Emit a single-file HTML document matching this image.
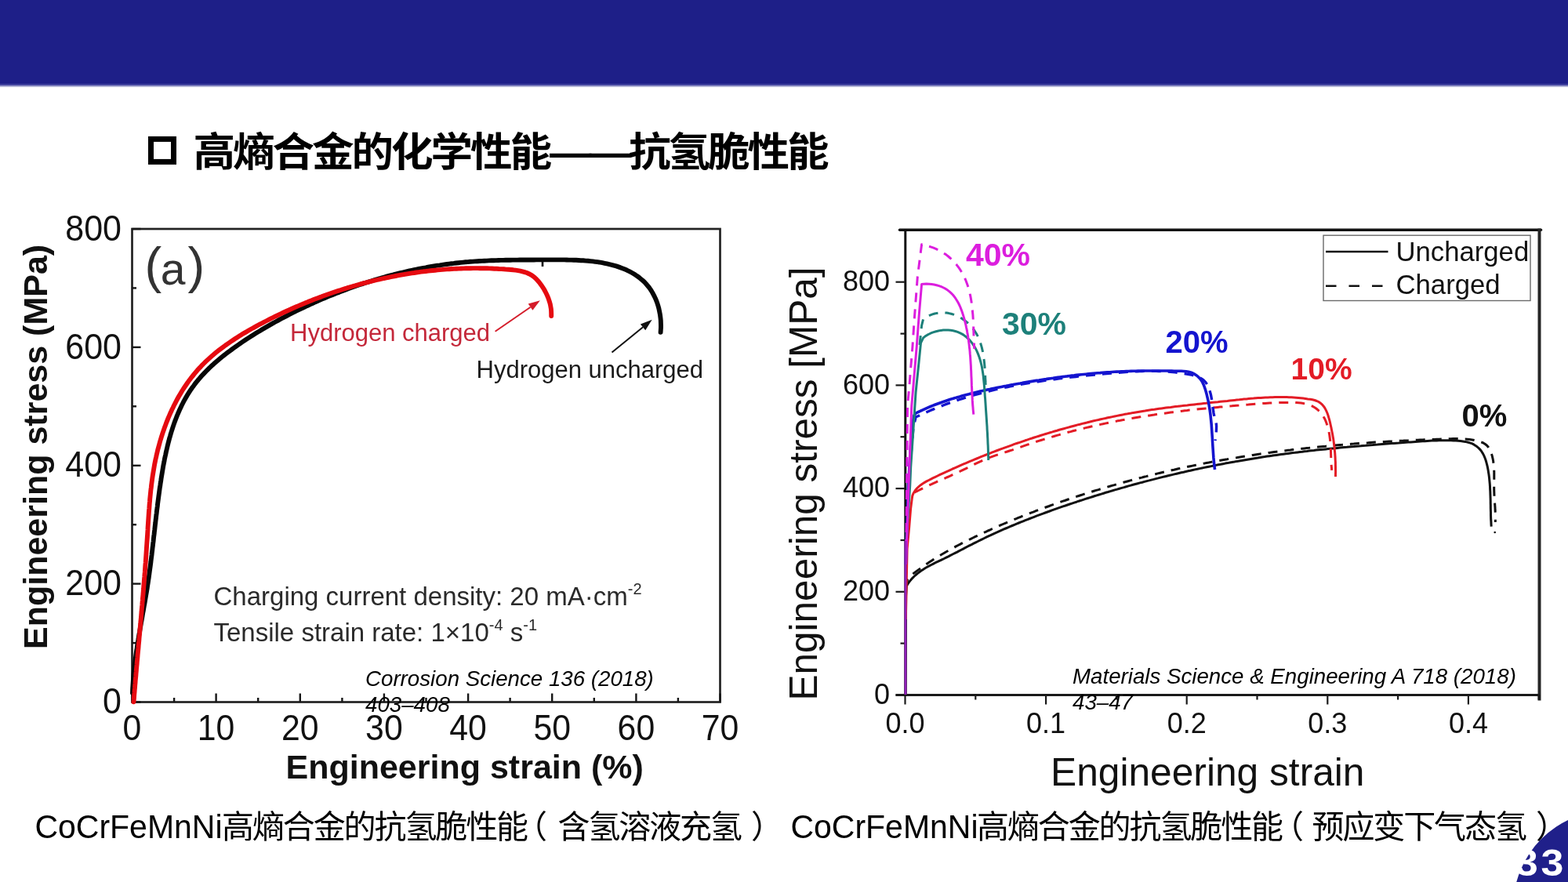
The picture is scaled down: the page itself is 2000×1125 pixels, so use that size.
<!DOCTYPE html>
<html><head><meta charset="utf-8"><title>slide</title>
<style>
html,body{margin:0;padding:0;background:#fff;}
body{width:2000px;height:1125px;overflow:hidden;position:relative;}
svg{position:absolute;left:0;top:0;display:block;}
</style></head>
<body>
<svg width="2000" height="1125" viewBox="0 0 2000 1125">
<rect x="0" y="0" width="2000" height="107.7" fill="#1e1f88"/>
<rect x="0" y="107.7" width="2000" height="1.2" fill="#16178a"/>
<rect x="0" y="108.9" width="2000" height="2" fill="#a8aad1"/>
<rect x="192.5" y="177.4" width="29" height="29" fill="none" stroke="#000" stroke-width="7"/>
<text transform="translate(246.5 211.5) scale(1.05 1)" x="0" y="0" font-family="'Liberation Sans','Noto Sans CJK SC',sans-serif" font-size="51" letter-spacing="-2.9" font-weight="700" fill="#000">高熵合金的化学性能——抗氢脆性能</text>
<g font-family="'Liberation Sans',Arial,sans-serif"><rect x="168.5" y="292.0" width="750.0" height="603.5" fill="none" stroke="#222" stroke-width="2.7"/><line x1="168.5" y1="895.5" x2="179.5" y2="895.5" stroke="#161616" stroke-width="2.4"/><line x1="168.5" y1="820.1" x2="174.0" y2="820.1" stroke="#161616" stroke-width="2.4"/><line x1="168.5" y1="744.6" x2="179.5" y2="744.6" stroke="#161616" stroke-width="2.4"/><line x1="168.5" y1="669.2" x2="174.0" y2="669.2" stroke="#161616" stroke-width="2.4"/><line x1="168.5" y1="593.8" x2="179.5" y2="593.8" stroke="#161616" stroke-width="2.4"/><line x1="168.5" y1="518.3" x2="174.0" y2="518.3" stroke="#161616" stroke-width="2.4"/><line x1="168.5" y1="442.9" x2="179.5" y2="442.9" stroke="#161616" stroke-width="2.4"/><line x1="168.5" y1="367.4" x2="174.0" y2="367.4" stroke="#161616" stroke-width="2.4"/><line x1="168.5" y1="292.0" x2="179.5" y2="292.0" stroke="#161616" stroke-width="2.4"/><line x1="168.5" y1="895.5" x2="168.5" y2="884.5" stroke="#161616" stroke-width="2.4"/><line x1="222.1" y1="895.5" x2="222.1" y2="890.0" stroke="#161616" stroke-width="2.4"/><line x1="275.6" y1="895.5" x2="275.6" y2="884.5" stroke="#161616" stroke-width="2.4"/><line x1="329.2" y1="895.5" x2="329.2" y2="890.0" stroke="#161616" stroke-width="2.4"/><line x1="382.8" y1="895.5" x2="382.8" y2="884.5" stroke="#161616" stroke-width="2.4"/><line x1="436.4" y1="895.5" x2="436.4" y2="890.0" stroke="#161616" stroke-width="2.4"/><line x1="489.9" y1="895.5" x2="489.9" y2="884.5" stroke="#161616" stroke-width="2.4"/><line x1="543.5" y1="895.5" x2="543.5" y2="890.0" stroke="#161616" stroke-width="2.4"/><line x1="597.1" y1="895.5" x2="597.1" y2="884.5" stroke="#161616" stroke-width="2.4"/><line x1="650.6" y1="895.5" x2="650.6" y2="890.0" stroke="#161616" stroke-width="2.4"/><line x1="704.2" y1="895.5" x2="704.2" y2="884.5" stroke="#161616" stroke-width="2.4"/><line x1="757.8" y1="895.5" x2="757.8" y2="890.0" stroke="#161616" stroke-width="2.4"/><line x1="811.4" y1="895.5" x2="811.4" y2="884.5" stroke="#161616" stroke-width="2.4"/><line x1="864.9" y1="895.5" x2="864.9" y2="890.0" stroke="#161616" stroke-width="2.4"/><line x1="918.5" y1="895.5" x2="918.5" y2="884.5" stroke="#161616" stroke-width="2.4"/><text transform="translate(155 910.1) scale(0.935 1)" text-anchor="end" font-size="46" fill="#111">0</text><text transform="translate(155 759.2) scale(0.935 1)" text-anchor="end" font-size="46" fill="#111">200</text><text transform="translate(155 608.4) scale(0.935 1)" text-anchor="end" font-size="46" fill="#111">400</text><text transform="translate(155 457.5) scale(0.935 1)" text-anchor="end" font-size="46" fill="#111">600</text><text transform="translate(155 306.6) scale(0.935 1)" text-anchor="end" font-size="46" fill="#111">800</text><text transform="translate(168.5 944.3) scale(0.93 1)" text-anchor="middle" font-size="46" fill="#111">0</text><text transform="translate(275.6 944.3) scale(0.93 1)" text-anchor="middle" font-size="46" fill="#111">10</text><text transform="translate(382.8 944.3) scale(0.93 1)" text-anchor="middle" font-size="46" fill="#111">20</text><text transform="translate(489.9 944.3) scale(0.93 1)" text-anchor="middle" font-size="46" fill="#111">30</text><text transform="translate(597.1 944.3) scale(0.93 1)" text-anchor="middle" font-size="46" fill="#111">40</text><text transform="translate(704.2 944.3) scale(0.93 1)" text-anchor="middle" font-size="46" fill="#111">50</text><text transform="translate(811.4 944.3) scale(0.93 1)" text-anchor="middle" font-size="46" fill="#111">60</text><text transform="translate(918.5 944.3) scale(0.93 1)" text-anchor="middle" font-size="46" fill="#111">70</text><text x="364.5" y="992.5" font-size="43" font-weight="bold" fill="#111">Engineering strain (%)</text><text transform="translate(59.5 828) rotate(-90)" x="0" y="0" font-size="43" font-weight="bold" fill="#111">Engineering stress (MPa)</text><path d="M169.0 884.0 L169.1 881.0 L169.2 878.0 L169.4 875.0 L169.6 872.0 L169.8 869.0 L170.0 866.0 L170.2 863.1 L170.5 860.1 L170.8 857.1 L171.1 854.1 L171.4 851.1 L171.7 848.1 L172.1 845.1 L172.5 842.1 L172.9 839.1 L173.3 836.2 L173.7 833.2 L174.1 830.2 L174.6 827.2 L175.0 824.2 L175.5 821.2 L176.0 818.2 L176.5 815.3 L176.9 812.3 L177.4 809.3 L178.0 806.3 L178.5 803.3 L179.0 800.3 L179.5 797.4 L180.0 794.4 L180.6 791.4 L181.1 788.4 L181.6 785.4 L182.1 782.5 L182.7 779.5 L183.2 776.5 L183.7 773.5 L184.3 770.5 L184.8 767.6 L185.3 764.6 L185.8 761.6 L186.3 758.6 L186.8 755.7 L187.3 752.7 L187.8 749.7 L188.2 746.7 L188.7 743.8 L189.1 740.8 L189.6 737.8 L190.0 734.9 L190.4 731.9 L190.8 728.9 L191.2 725.9 L191.6 723.0 L192.0 720.0 L192.4 717.0 L192.7 714.1 L193.1 711.1 L193.5 708.1 L193.8 705.1 L194.2 702.2 L194.5 699.2 L194.9 696.2 L195.2 693.2 L195.6 690.3 L195.9 687.3 L196.2 684.3 L196.6 681.4 L196.9 678.4 L197.3 675.4 L197.6 672.4 L197.9 669.5 L198.3 666.5 L198.6 663.5 L199.0 660.5 L199.3 657.5 L199.7 654.6 L200.0 651.6 L200.4 648.6 L200.8 645.6 L201.1 642.6 L201.5 639.6 L201.9 636.7 L202.3 633.7 L202.7 630.7 L203.1 627.7 L203.5 624.7 L203.9 621.7 L204.4 618.7 L204.8 615.7 L205.3 612.7 L205.7 609.7 L206.2 606.7 L206.7 603.7 L207.2 600.7 L207.7 597.7 L208.2 594.7 L208.8 591.7 L209.4 588.7 L209.9 585.7 L210.5 582.8 L211.2 579.8 L211.8 576.8 L212.5 573.9 L213.2 570.9 L213.9 567.9 L214.6 565.0 L215.4 562.1 L216.1 559.2 L217.0 556.3 L217.8 553.4 L218.7 550.5 L219.6 547.6 L220.5 544.8 L221.5 541.9 L222.5 539.1 L223.5 536.3 L224.6 533.5 L225.7 530.7 L226.8 528.0 L228.0 525.3 L229.2 522.5 L230.4 519.9 L231.7 517.2 L233.1 514.5 L234.4 511.9 L235.9 509.3 L237.3 506.8 L238.8 504.2 L240.4 501.7 L242.0 499.2 L243.6 496.7 L245.3 494.3 L247.1 491.9 L248.8 489.5 L250.7 487.2 L252.6 484.8 L254.5 482.6 L256.5 480.3 L258.5 478.1 L260.6 475.9 L262.7 473.7 L264.8 471.6 L267.0 469.4 L269.2 467.3 L271.5 465.3 L273.7 463.2 L276.0 461.2 L278.4 459.2 L280.7 457.3 L283.1 455.3 L285.5 453.4 L287.9 451.5 L290.3 449.6 L292.8 447.8 L295.3 446.0 L297.8 444.2 L300.3 442.4 L302.8 440.6 L305.3 438.9 L307.8 437.1 L310.3 435.4 L312.8 433.7 L315.4 432.1 L317.9 430.4 L320.5 428.8 L323.0 427.2 L325.6 425.6 L328.1 424.0 L330.7 422.5 L333.2 420.9 L335.8 419.4 L338.4 417.9 L341.0 416.4 L343.6 414.9 L346.2 413.4 L348.8 411.9 L351.4 410.5 L354.0 409.1 L356.6 407.6 L359.3 406.2 L361.9 404.8 L364.5 403.5 L367.2 402.1 L369.9 400.7 L372.5 399.4 L375.2 398.0 L377.9 396.7 L380.6 395.4 L383.3 394.1 L386.0 392.8 L388.7 391.5 L391.4 390.2 L394.1 389.0 L396.8 387.7 L399.6 386.5 L402.3 385.2 L405.1 384.0 L407.8 382.8 L410.6 381.6 L413.4 380.5 L416.1 379.3 L418.9 378.1 L421.7 377.0 L424.5 375.9 L427.3 374.8 L430.1 373.6 L432.9 372.6 L435.7 371.5 L438.5 370.4 L441.3 369.4 L444.2 368.3 L447.0 367.3 L449.8 366.3 L452.7 365.3 L455.5 364.3 L458.4 363.3 L461.3 362.4 L464.1 361.4 L467.0 360.5 L469.9 359.6 L472.7 358.7 L475.6 357.8 L478.5 356.9 L481.4 356.0 L484.3 355.2 L487.2 354.3 L490.1 353.5 L493.0 352.7 L495.9 351.9 L498.8 351.1 L501.8 350.4 L504.7 349.6 L507.6 348.9 L510.5 348.2 L513.5 347.5 L516.4 346.8 L519.3 346.1 L522.3 345.4 L525.2 344.8 L528.2 344.2 L531.1 343.6 L534.1 343.0 L537.1 342.4 L540.0 341.8 L543.0 341.3 L546.0 340.7 L548.9 340.2 L551.9 339.7 L554.9 339.2 L557.9 338.7 L560.8 338.3 L563.8 337.8 L566.8 337.4 L569.8 337.0 L572.8 336.6 L575.8 336.2 L578.8 335.9 L581.7 335.5 L584.7 335.2 L587.7 334.9 L590.7 334.6 L593.7 334.3 L596.7 334.1 L599.7 333.8 L602.7 333.6 L605.8 333.4 L608.8 333.2 L611.8 333.0 L614.8 332.9 L617.8 332.7 L620.8 332.6 L623.8 332.4 L626.8 332.3 L629.8 332.2 L632.8 332.1 L635.8 332.0 L638.9 331.9 L641.9 331.9 L644.9 331.8 L647.9 331.7 L650.9 331.7 L653.9 331.6 L656.9 331.6 L659.9 331.6 L662.9 331.5 L665.9 331.5 L668.9 331.5 L671.9 331.5 L675.0 331.5 L678.0 331.5 L681.0 331.5 L684.0 331.4 L686.9 331.4 L689.9 331.4 L692.9 331.4 L695.9 331.4 L698.9 331.4 L701.9 331.4 L704.9 331.4 L707.9 331.4 L710.9 331.4 L713.9 331.4 L716.9 331.4 L719.9 331.4 L722.9 331.5 L725.9 331.6 L728.9 331.6 L731.9 331.7 L734.9 331.8 L737.9 332.0 L740.9 332.2 L744.0 332.3 L747.0 332.6 L750.1 332.8 L753.1 333.1 L756.2 333.4 L759.2 333.8 L762.2 334.2 L765.3 334.7 L768.3 335.2 L771.3 335.8 L774.2 336.4 L777.2 337.1 L780.2 337.8 L783.1 338.6 L786.0 339.4 L788.8 340.4 L791.7 341.4 L794.5 342.5 L797.2 343.6 L800.0 344.8 L802.7 346.1 L805.3 347.5 L807.9 349.0 L810.4 350.6 L812.9 352.3 L815.3 354.0 L817.6 355.9 L819.8 357.8 L822.0 359.8 L824.0 362.0 L825.9 364.2 L827.8 366.5 L829.5 368.9 L831.1 371.4 L832.6 374.0 L834.0 376.6 L835.3 379.3 L836.6 382.1 L837.7 384.9 L838.7 387.8 L839.6 390.7 L840.4 393.6 L841.0 396.6 L841.6 399.6 L842.1 402.6 L842.5 405.7 L842.8 408.7 L842.9 411.8 L843.0 414.8 L843.0 417.9 L842.8 420.9 L842.6 423.9" fill="none" stroke="#070707" stroke-width="5.9" stroke-linejoin="round" stroke-linecap="round"/><path d="M170.5 895.3 L170.8 892.3 L171.0 889.3 L171.2 886.3 L171.5 883.3 L171.7 880.3 L172.0 877.3 L172.2 874.3 L172.5 871.3 L172.7 868.3 L173.0 865.3 L173.3 862.3 L173.5 859.3 L173.8 856.3 L174.0 853.3 L174.3 850.3 L174.6 847.3 L174.8 844.3 L175.1 841.3 L175.4 838.3 L175.6 835.3 L175.9 832.3 L176.2 829.3 L176.5 826.3 L176.7 823.3 L177.0 820.3 L177.3 817.2 L177.5 814.2 L177.8 811.2 L178.1 808.2 L178.3 805.2 L178.6 802.2 L178.9 799.2 L179.2 796.1 L179.4 793.1 L179.7 790.1 L180.0 787.1 L180.2 784.1 L180.5 781.1 L180.7 778.1 L181.0 775.0 L181.3 772.0 L181.5 769.0 L181.8 766.0 L182.0 763.0 L182.3 760.0 L182.6 756.9 L182.8 753.9 L183.1 750.9 L183.3 747.9 L183.6 744.9 L183.8 741.9 L184.0 738.8 L184.3 735.8 L184.5 732.8 L184.8 729.8 L185.0 726.8 L185.2 723.8 L185.4 720.8 L185.7 717.8 L185.9 714.7 L186.1 711.7 L186.3 708.7 L186.5 705.7 L186.7 702.7 L186.9 699.7 L187.1 696.7 L187.3 693.7 L187.5 690.7 L187.7 687.7 L187.9 684.7 L188.1 681.7 L188.3 678.7 L188.5 675.7 L188.6 672.7 L188.8 669.7 L189.0 666.7 L189.2 663.7 L189.4 660.7 L189.6 657.7 L189.8 654.7 L190.0 651.7 L190.3 648.7 L190.5 645.7 L190.7 642.7 L191.0 639.8 L191.2 636.8 L191.5 633.8 L191.8 630.8 L192.1 627.8 L192.4 624.8 L192.8 621.9 L193.1 618.9 L193.5 615.9 L193.9 612.9 L194.3 609.9 L194.7 607.0 L195.2 604.0 L195.7 601.0 L196.2 598.1 L196.7 595.1 L197.2 592.1 L197.8 589.1 L198.4 586.2 L199.1 583.2 L199.7 580.3 L200.4 577.3 L201.1 574.3 L201.9 571.4 L202.7 568.4 L203.5 565.5 L204.3 562.5 L205.2 559.6 L206.1 556.7 L207.0 553.8 L208.0 550.9 L209.0 548.0 L210.0 545.1 L211.1 542.2 L212.1 539.4 L213.3 536.5 L214.4 533.7 L215.6 530.9 L216.8 528.1 L218.1 525.3 L219.3 522.5 L220.7 519.8 L222.0 517.0 L223.4 514.3 L224.8 511.6 L226.2 509.0 L227.7 506.3 L229.2 503.7 L230.8 501.1 L232.3 498.5 L233.9 496.0 L235.6 493.5 L237.3 491.0 L239.0 488.5 L240.7 486.1 L242.5 483.7 L244.3 481.3 L246.2 479.0 L248.1 476.7 L250.0 474.4 L251.9 472.1 L253.9 469.9 L256.0 467.8 L258.0 465.6 L260.1 463.5 L262.2 461.4 L264.4 459.4 L266.6 457.4 L268.8 455.4 L271.0 453.4 L273.3 451.5 L275.6 449.6 L277.9 447.7 L280.3 445.9 L282.7 444.1 L285.1 442.3 L287.5 440.5 L289.9 438.8 L292.4 437.1 L294.9 435.4 L297.4 433.7 L299.9 432.0 L302.4 430.4 L305.0 428.8 L307.5 427.2 L310.1 425.6 L312.7 424.1 L315.4 422.6 L318.0 421.0 L320.6 419.5 L323.3 418.1 L325.9 416.6 L328.6 415.1 L331.3 413.7 L334.0 412.3 L336.7 410.9 L339.4 409.5 L342.1 408.1 L344.8 406.7 L347.5 405.4 L350.2 404.0 L353.0 402.7 L355.7 401.4 L358.4 400.1 L361.2 398.8 L363.9 397.5 L366.7 396.2 L369.5 395.0 L372.2 393.8 L375.0 392.5 L377.8 391.3 L380.6 390.1 L383.4 388.9 L386.2 387.8 L389.0 386.6 L391.8 385.5 L394.6 384.3 L397.4 383.2 L400.2 382.1 L403.0 381.0 L405.9 379.9 L408.7 378.9 L411.5 377.8 L414.4 376.8 L417.2 375.8 L420.1 374.8 L422.9 373.8 L425.8 372.8 L428.7 371.8 L431.5 370.9 L434.4 370.0 L437.3 369.0 L440.2 368.1 L443.0 367.2 L445.9 366.4 L448.8 365.5 L451.7 364.7 L454.6 363.8 L457.5 363.0 L460.4 362.2 L463.4 361.4 L466.3 360.7 L469.2 359.9 L472.1 359.2 L475.0 358.4 L478.0 357.7 L480.9 357.0 L483.8 356.3 L486.8 355.7 L489.7 355.0 L492.7 354.4 L495.6 353.8 L498.6 353.2 L501.5 352.6 L504.5 352.0 L507.4 351.4 L510.4 350.9 L513.4 350.4 L516.3 349.9 L519.3 349.4 L522.3 348.9 L525.2 348.4 L528.2 348.0 L531.2 347.5 L534.2 347.1 L537.2 346.7 L540.2 346.3 L543.1 346.0 L546.1 345.6 L549.1 345.3 L552.1 345.0 L555.1 344.7 L558.1 344.4 L561.1 344.1 L564.1 343.9 L567.1 343.6 L570.1 343.4 L573.1 343.2 L576.1 343.0 L579.2 342.9 L582.2 342.7 L585.2 342.6 L588.2 342.5 L591.2 342.4 L594.2 342.3 L597.2 342.2 L600.3 342.2 L603.3 342.1 L606.3 342.1 L609.3 342.1 L612.3 342.2 L615.4 342.2 L618.4 342.3 L621.4 342.3 L624.4 342.4 L627.5 342.5 L630.5 342.7 L633.5 342.8 L636.5 343.0 L639.6 343.1 L642.6 343.3 L645.6 343.6 L648.7 343.8 L651.7 344.0 L654.7 344.3 L657.7 344.7 L660.7 345.1 L663.6 345.6 L666.5 346.3 L669.3 347.1 L672.1 348.0 L674.7 349.2 L677.3 350.6 L679.8 352.2 L682.1 354.1 L684.3 356.2 L686.4 358.5 L688.4 360.9 L690.3 363.5 L692.1 366.1 L693.8 368.8 L695.3 371.5 L696.7 374.3 L698.0 377.0 L699.2 379.8 L700.2 382.7 L701.1 385.5 L701.9 388.4 L702.4 391.3 L702.9 394.2 L703.1 397.1 L703.2 400.1 L703.2 403.1" fill="none" stroke="#e60a10" stroke-width="5.9" stroke-linejoin="round" stroke-linecap="round"/><line x1="692" y1="333" x2="692" y2="340" stroke="#080808" stroke-width="2.6"/><line x1="631.6" y1="422.8" x2="676.6" y2="391.7" stroke="#d41c2a" stroke-width="2.0"/><polygon points="688.9,383.2 679.4,395.8 673.7,387.6" fill="#d41c2a"/><line x1="780.5" y1="449.6" x2="820.1" y2="417.3" stroke="#111" stroke-width="2.0"/><polygon points="831.7,407.8 823.2,421.2 816.9,413.4" fill="#111"/><text fill="#333"><tspan x="184.5" y="361" font-size="65">(</tspan><tspan x="204.7" y="363.3" font-size="57">a</tspan><tspan x="239.4" y="361" font-size="65">)</tspan></text><text x="370" y="434.8" font-size="31" fill="#c4283a">Hydrogen charged</text><text x="607.5" y="482" font-size="31" fill="#1a1a1a">Hydrogen uncharged</text><text x="272.5" y="772" font-size="33" fill="#2a2a2a">Charging current density: 20 mA·cm<tspan font-size="20" dy="-14">-2</tspan></text><text x="272.5" y="817.5" font-size="33" fill="#2a2a2a">Tensile strain rate: 1×10<tspan font-size="20" dy="-14">-4</tspan><tspan font-size="33" dy="14"> s</tspan><tspan font-size="20" dy="-14">-1</tspan></text><text x="466" y="875" font-size="27.7" font-style="italic" fill="#000">Corrosion Science 136 (2018)</text><text x="466" y="908" font-size="27.7" font-style="italic" fill="#000">403–408</text></g>
<g font-family="'Liberation Sans',Arial,sans-serif"><line x1="1147.5" y1="293.3" x2="1965.5" y2="293.3" stroke="#111" stroke-width="3.4" stroke-linecap="round"/><line x1="1963.5" y1="291.6" x2="1963.5" y2="893.5" stroke="#262626" stroke-width="4"/><line x1="1154.8" y1="292" x2="1154.8" y2="888" stroke="#111" stroke-width="3"/><line x1="1142.5" y1="886.5" x2="1963.5" y2="886.5" stroke="#1a1a1a" stroke-width="2.8"/><line x1="1142.5" y1="886.5" x2="1154.5" y2="886.5" stroke="#1a1a1a" stroke-width="2.2"/><line x1="1148.5" y1="820.6" x2="1154.5" y2="820.6" stroke="#1a1a1a" stroke-width="2.2"/><line x1="1142.5" y1="754.8" x2="1154.5" y2="754.8" stroke="#1a1a1a" stroke-width="2.2"/><line x1="1148.5" y1="689.0" x2="1154.5" y2="689.0" stroke="#1a1a1a" stroke-width="2.2"/><line x1="1142.5" y1="623.1" x2="1154.5" y2="623.1" stroke="#1a1a1a" stroke-width="2.2"/><line x1="1148.5" y1="557.2" x2="1154.5" y2="557.2" stroke="#1a1a1a" stroke-width="2.2"/><line x1="1142.5" y1="491.4" x2="1154.5" y2="491.4" stroke="#1a1a1a" stroke-width="2.2"/><line x1="1148.5" y1="425.6" x2="1154.5" y2="425.6" stroke="#1a1a1a" stroke-width="2.2"/><line x1="1142.5" y1="359.7" x2="1154.5" y2="359.7" stroke="#1a1a1a" stroke-width="2.2"/><line x1="1154.5" y1="886.5" x2="1154.5" y2="898.5" stroke="#1a1a1a" stroke-width="2.2"/><line x1="1244.3" y1="886.5" x2="1244.3" y2="892.5" stroke="#1a1a1a" stroke-width="2.2"/><line x1="1334.1" y1="886.5" x2="1334.1" y2="898.5" stroke="#1a1a1a" stroke-width="2.2"/><line x1="1423.9" y1="886.5" x2="1423.9" y2="892.5" stroke="#1a1a1a" stroke-width="2.2"/><line x1="1513.7" y1="886.5" x2="1513.7" y2="898.5" stroke="#1a1a1a" stroke-width="2.2"/><line x1="1603.5" y1="886.5" x2="1603.5" y2="892.5" stroke="#1a1a1a" stroke-width="2.2"/><line x1="1693.3" y1="886.5" x2="1693.3" y2="898.5" stroke="#1a1a1a" stroke-width="2.2"/><line x1="1783.1" y1="886.5" x2="1783.1" y2="892.5" stroke="#1a1a1a" stroke-width="2.2"/><line x1="1872.9" y1="886.5" x2="1872.9" y2="898.5" stroke="#1a1a1a" stroke-width="2.2"/><line x1="1962.7" y1="886.5" x2="1962.7" y2="892.5" stroke="#1a1a1a" stroke-width="2.2"/><line x1="1963.5" y1="886.5" x2="1963.5" y2="892.5" stroke="#1a1a1a" stroke-width="2.2"/><text x="1135" y="897.8" text-anchor="end" font-size="36" fill="#111">0</text><text x="1135" y="766.1" text-anchor="end" font-size="36" fill="#111">200</text><text x="1135" y="634.4" text-anchor="end" font-size="36" fill="#111">400</text><text x="1135" y="502.7" text-anchor="end" font-size="36" fill="#111">600</text><text x="1135" y="371.0" text-anchor="end" font-size="36" fill="#111">800</text><text x="1154.5" y="935" text-anchor="middle" font-size="36" fill="#111">0.0</text><text x="1334.1" y="935" text-anchor="middle" font-size="36" fill="#111">0.1</text><text x="1513.7" y="935" text-anchor="middle" font-size="36" fill="#111">0.2</text><text x="1693.3" y="935" text-anchor="middle" font-size="36" fill="#111">0.3</text><text x="1872.9" y="935" text-anchor="middle" font-size="36" fill="#111">0.4</text><text x="1340" y="1001.5" font-size="49.7" fill="#111">Engineering strain</text><text transform="translate(1041.5 893.5) rotate(-90)" font-size="49.5" fill="#111">Engineering stress [MPa]</text><rect x="1688" y="300.2" width="264" height="83.3" fill="none" stroke="#6a6a6a" stroke-width="1.4"/><line x1="1691" y1="321" x2="1770.5" y2="321" stroke="#111" stroke-width="2.6"/><line x1="1691" y1="364.7" x2="1766" y2="364.7" stroke="#111" stroke-width="2.6" stroke-dasharray="13.5 16"/><text x="1780.5" y="332.7" font-size="34.7" fill="#111">Uncharged</text><text x="1780.5" y="375.4" font-size="34.7" fill="#111">Charged</text><path d="M1155.6 750.0 L1157.5 738.9 L1159.3 736.4 L1161.6 734.5 L1163.9 732.6 L1166.2 730.7 L1168.6 728.9 L1171.0 727.1 L1173.4 725.4 L1175.8 723.6 L1178.3 721.9 L1180.7 720.2 L1183.2 718.5 L1185.7 716.8 L1188.2 715.2 L1190.7 713.6 L1193.3 712.0 L1195.8 710.4 L1198.4 708.8 L1201.0 707.3 L1203.6 705.8 L1206.2 704.2 L1208.8 702.8 L1211.5 701.3 L1214.1 699.8 L1216.8 698.4 L1219.4 696.9 L1222.1 695.5 L1224.8 694.1 L1227.5 692.7 L1230.2 691.4 L1232.9 690.0 L1235.6 688.7 L1238.3 687.3 L1241.0 686.0 L1243.7 684.7 L1246.5 683.4 L1249.2 682.1 L1251.9 680.8 L1254.7 679.5 L1257.4 678.3 L1260.1 677.0 L1262.9 675.8 L1265.6 674.5 L1268.4 673.3 L1271.1 672.1 L1273.9 670.9 L1276.7 669.7 L1279.4 668.5 L1282.2 667.3 L1285.0 666.2 L1287.7 665.0 L1290.5 663.8 L1293.3 662.7 L1296.1 661.6 L1298.9 660.4 L1301.7 659.3 L1304.4 658.2 L1307.2 657.1 L1310.0 656.0 L1312.8 654.9 L1315.6 653.8 L1318.5 652.8 L1321.3 651.7 L1324.1 650.6 L1326.9 649.6 L1329.7 648.5 L1332.5 647.5 L1335.4 646.5 L1338.2 645.5 L1341.0 644.4 L1343.9 643.4 L1346.7 642.4 L1349.5 641.4 L1352.4 640.4 L1355.2 639.4 L1358.1 638.5 L1360.9 637.5 L1363.8 636.5 L1366.6 635.6 L1369.5 634.6 L1372.4 633.7 L1375.2 632.7 L1378.1 631.8 L1380.9 630.9 L1383.8 629.9 L1386.7 629.0 L1389.6 628.1 L1392.4 627.2 L1395.3 626.3 L1398.2 625.4 L1401.1 624.6 L1404.0 623.7 L1406.9 622.8 L1409.8 622.0 L1412.6 621.1 L1415.5 620.3 L1418.4 619.4 L1421.3 618.6 L1424.2 617.7 L1427.1 616.9 L1430.0 616.1 L1433.0 615.3 L1435.9 614.5 L1438.8 613.7 L1441.7 612.9 L1444.6 612.1 L1447.5 611.4 L1450.4 610.6 L1453.4 609.8 L1456.3 609.1 L1459.2 608.3 L1462.1 607.6 L1465.1 606.8 L1468.0 606.1 L1470.9 605.4 L1473.8 604.7 L1476.8 603.9 L1479.7 603.2 L1482.7 602.5 L1485.6 601.9 L1488.5 601.2 L1491.5 600.5 L1494.4 599.8 L1497.4 599.2 L1500.3 598.5 L1503.2 597.8 L1506.2 597.2 L1509.1 596.6 L1512.1 595.9 L1515.0 595.3 L1518.0 594.7 L1521.0 594.1 L1523.9 593.5 L1526.9 592.9 L1529.8 592.3 L1532.8 591.7 L1535.7 591.1 L1538.7 590.5 L1541.7 590.0 L1544.6 589.4 L1547.6 588.8 L1550.5 588.3 L1553.5 587.8 L1556.5 587.2 L1559.4 586.7 L1562.4 586.2 L1565.4 585.7 L1568.4 585.1 L1571.3 584.6 L1574.3 584.1 L1577.3 583.7 L1580.2 583.2 L1583.2 582.7 L1586.2 582.2 L1589.2 581.7 L1592.1 581.3 L1595.1 580.8 L1598.1 580.4 L1601.1 579.9 L1604.1 579.5 L1607.0 579.1 L1610.0 578.6 L1613.0 578.2 L1616.0 577.8 L1619.0 577.4 L1621.9 577.0 L1624.9 576.6 L1627.9 576.2 L1630.9 575.8 L1633.9 575.4 L1636.9 575.1 L1639.9 574.7 L1642.9 574.3 L1645.9 574.0 L1648.8 573.6 L1651.8 573.3 L1654.8 572.9 L1657.8 572.6 L1660.8 572.2 L1663.8 571.9 L1666.8 571.6 L1669.8 571.3 L1672.8 570.9 L1675.8 570.6 L1678.8 570.3 L1681.8 570.0 L1684.8 569.7 L1687.8 569.4 L1690.8 569.2 L1693.8 568.9 L1696.8 568.6 L1699.8 568.3 L1702.8 568.1 L1705.8 567.8 L1708.8 567.5 L1711.8 567.3 L1714.8 567.0 L1717.8 566.8 L1720.8 566.5 L1723.8 566.3 L1726.8 566.1 L1729.9 565.8 L1732.9 565.6 L1735.9 565.4 L1738.9 565.2 L1741.9 565.0 L1744.9 564.8 L1747.9 564.5 L1750.9 564.3 L1753.9 564.1 L1757.0 564.0 L1760.0 563.8 L1763.0 563.6 L1766.0 563.4 L1769.0 563.2 L1772.0 563.0 L1775.0 562.9 L1778.1 562.7 L1781.1 562.5 L1784.1 562.4 L1787.1 562.2 L1790.1 562.1 L1793.1 561.9 L1796.2 561.8 L1799.2 561.6 L1802.2 561.5 L1805.2 561.4 L1808.2 561.2 L1811.3 561.1 L1814.3 561.0 L1817.3 560.8 L1820.3 560.7 L1823.4 560.6 L1826.4 560.5 L1829.4 560.4 L1832.4 560.3 L1835.4 560.2 L1838.5 560.1 L1841.5 560.0 L1844.5 559.9 L1847.5 559.8 L1850.6 559.7 L1853.6 559.6 L1856.6 559.6 L1859.6 559.6 L1862.6 559.7 L1865.6 559.8 L1868.6 560.0 L1871.6 560.2 L1874.6 560.6 L1877.6 561.0 L1880.5 561.5 L1883.5 562.2 L1886.4 562.9 L1889.3 563.9 L1892.0 565.0 L1894.4 566.5 L1896.6 568.2 L1898.5 570.4 L1900.0 572.9 L1901.3 575.6 L1902.3 578.5 L1903.2 581.4 L1903.9 584.3 L1904.5 587.3 L1904.9 590.3 L1905.3 593.4 L1905.5 596.4 L1905.7 599.5 L1905.8 602.6 L1905.8 605.7 L1905.8 608.8 L1905.8 611.8 L1905.7 614.9 L1905.7 618.0 L1905.7 621.0 L1905.7 624.1 L1905.8 627.1 L1905.9 630.0 L1906.0 633.0 L1906.2 636.0 L1906.4 638.9 L1906.6 641.8 L1906.8 644.8 L1907.0 647.7 L1907.1 650.7 L1907.3 653.7 L1907.4 656.7 L1907.4 659.8 L1907.4 662.9 L1907.3 666.0" fill="none" stroke="#111111" stroke-width="3.0" stroke-linejoin="round" stroke-linecap="butt" stroke-dasharray="12 9"/><circle cx="1906.7" cy="679" r="1.3" fill="#111"/><path d="M1155.2 886.0 L1155.6 760.0 L1156.4 747.5 L1157.9 744.8 L1159.7 742.2 L1161.6 739.9 L1163.6 737.6 L1165.7 735.5 L1167.9 733.5 L1170.1 731.6 L1172.5 729.8 L1174.9 728.0 L1177.4 726.4 L1179.9 724.8 L1182.5 723.3 L1185.1 721.9 L1187.8 720.5 L1190.5 719.1 L1193.2 717.7 L1196.0 716.4 L1198.7 715.1 L1201.4 713.8 L1204.2 712.5 L1206.9 711.1 L1209.6 709.8 L1212.3 708.4 L1215.0 707.0 L1217.7 705.7 L1220.4 704.3 L1223.1 702.9 L1225.8 701.5 L1228.5 700.1 L1231.2 698.7 L1233.8 697.3 L1236.5 695.9 L1239.2 694.6 L1241.9 693.2 L1244.6 691.8 L1247.3 690.5 L1250.0 689.2 L1252.7 687.8 L1255.4 686.5 L1258.1 685.2 L1260.8 683.9 L1263.6 682.7 L1266.3 681.4 L1269.0 680.1 L1271.8 678.9 L1274.5 677.7 L1277.3 676.4 L1280.0 675.2 L1282.8 674.0 L1285.6 672.8 L1288.3 671.7 L1291.1 670.5 L1293.9 669.3 L1296.7 668.2 L1299.5 667.0 L1302.2 665.9 L1305.0 664.8 L1307.8 663.7 L1310.6 662.6 L1313.4 661.5 L1316.3 660.4 L1319.1 659.3 L1321.9 658.2 L1324.7 657.2 L1327.5 656.1 L1330.3 655.1 L1333.2 654.0 L1336.0 653.0 L1338.8 652.0 L1341.7 650.9 L1344.5 649.9 L1347.4 648.9 L1350.2 647.9 L1353.1 646.9 L1355.9 645.9 L1358.8 645.0 L1361.6 644.0 L1364.5 643.0 L1367.3 642.1 L1370.2 641.1 L1373.1 640.2 L1375.9 639.2 L1378.8 638.3 L1381.7 637.3 L1384.5 636.4 L1387.4 635.5 L1390.3 634.6 L1393.1 633.7 L1396.0 632.8 L1398.9 631.9 L1401.8 631.0 L1404.7 630.1 L1407.6 629.2 L1410.4 628.3 L1413.3 627.5 L1416.2 626.6 L1419.1 625.8 L1422.0 624.9 L1424.9 624.1 L1427.8 623.2 L1430.7 622.4 L1433.6 621.6 L1436.5 620.7 L1439.4 619.9 L1442.3 619.1 L1445.2 618.3 L1448.1 617.5 L1451.1 616.7 L1454.0 615.9 L1456.9 615.2 L1459.8 614.4 L1462.7 613.6 L1465.6 612.9 L1468.6 612.1 L1471.5 611.4 L1474.4 610.6 L1477.3 609.9 L1480.3 609.1 L1483.2 608.4 L1486.1 607.7 L1489.0 607.0 L1492.0 606.3 L1494.9 605.6 L1497.8 604.9 L1500.8 604.2 L1503.7 603.5 L1506.7 602.8 L1509.6 602.2 L1512.5 601.5 L1515.5 600.8 L1518.4 600.2 L1521.4 599.5 L1524.3 598.9 L1527.3 598.3 L1530.2 597.6 L1533.2 597.0 L1536.1 596.4 L1539.1 595.8 L1542.0 595.2 L1545.0 594.6 L1547.9 594.0 L1550.9 593.4 L1553.8 592.8 L1556.8 592.3 L1559.8 591.7 L1562.7 591.1 L1565.7 590.6 L1568.7 590.0 L1571.6 589.5 L1574.6 589.0 L1577.6 588.4 L1580.5 587.9 L1583.5 587.4 L1586.5 586.9 L1589.4 586.4 L1592.4 585.9 L1595.4 585.4 L1598.3 584.9 L1601.3 584.4 L1604.3 584.0 L1607.3 583.5 L1610.2 583.0 L1613.2 582.6 L1616.2 582.1 L1619.2 581.7 L1622.2 581.3 L1625.1 580.8 L1628.1 580.4 L1631.1 580.0 L1634.1 579.6 L1637.1 579.2 L1640.1 578.8 L1643.0 578.4 L1646.0 578.0 L1649.0 577.6 L1652.0 577.3 L1655.0 576.9 L1658.0 576.5 L1661.0 576.2 L1664.0 575.8 L1666.9 575.5 L1669.9 575.1 L1672.9 574.8 L1675.9 574.5 L1678.9 574.1 L1681.9 573.8 L1684.9 573.5 L1687.9 573.2 L1690.9 572.9 L1693.9 572.6 L1696.9 572.3 L1699.9 572.0 L1702.9 571.7 L1705.9 571.4 L1708.9 571.1 L1711.9 570.8 L1714.9 570.5 L1717.9 570.3 L1720.9 570.0 L1723.9 569.7 L1726.9 569.5 L1729.9 569.2 L1732.9 568.9 L1735.9 568.7 L1738.9 568.4 L1741.9 568.2 L1745.0 567.9 L1748.0 567.7 L1751.0 567.5 L1754.0 567.2 L1757.0 567.0 L1760.0 566.7 L1763.0 566.5 L1766.0 566.3 L1769.1 566.1 L1772.1 565.8 L1775.1 565.6 L1778.1 565.4 L1781.1 565.2 L1784.1 565.0 L1787.2 564.7 L1790.2 564.5 L1793.2 564.3 L1796.2 564.1 L1799.2 563.9 L1802.3 563.7 L1805.3 563.5 L1808.3 563.3 L1811.3 563.0 L1814.4 562.8 L1817.4 562.7 L1820.4 562.5 L1823.4 562.3 L1826.5 562.1 L1829.5 562.0 L1832.5 561.9 L1835.6 561.8 L1838.6 561.7 L1841.7 561.7 L1844.7 561.7 L1847.8 561.7 L1850.8 561.8 L1853.9 561.9 L1856.9 562.1 L1860.0 562.2 L1863.0 562.5 L1866.0 562.9 L1869.0 563.4 L1871.8 564.0 L1874.6 564.8 L1877.3 565.7 L1879.8 566.9 L1882.1 568.4 L1884.3 570.0 L1886.4 571.9 L1888.3 573.9 L1890.0 576.2 L1891.5 578.6 L1892.8 581.2 L1894.0 584.0 L1895.0 586.8 L1895.9 589.8 L1896.7 592.8 L1897.4 595.9 L1898.0 599.0 L1898.5 602.2 L1899.0 605.3 L1899.4 608.4 L1899.7 611.5 L1900.0 614.5 L1900.3 617.6 L1900.5 620.7 L1900.6 623.7 L1900.8 626.7 L1900.9 629.8 L1901.0 632.8 L1901.1 635.8 L1901.2 638.8 L1901.2 641.8 L1901.3 644.8 L1901.3 647.8 L1901.4 650.8 L1901.5 653.7 L1901.5 656.7 L1901.6 659.7 L1901.7 662.7 L1901.9 665.6 L1902.0 668.6 L1902.2 671.6" fill="none" stroke="#111111" stroke-width="3.0" stroke-linejoin="round" stroke-linecap="butt"/><path d="M1166.4 628.2 L1169.0 626.8 L1171.7 625.5 L1174.4 624.1 L1177.1 622.8 L1179.8 621.5 L1182.6 620.2 L1185.3 618.9 L1188.1 617.7 L1190.8 616.4 L1193.6 615.2 L1196.3 613.9 L1199.1 612.7 L1201.9 611.5 L1204.6 610.3 L1207.4 609.0 L1210.2 607.8 L1212.9 606.6 L1215.7 605.3 L1218.5 604.1 L1221.2 602.8 L1224.0 601.5 L1226.7 600.2 L1229.4 598.9 L1232.1 597.6 L1234.8 596.3 L1237.5 594.9 L1240.2 593.6 L1242.9 592.2 L1245.6 590.9 L1248.3 589.6 L1251.1 588.3 L1253.8 587.1 L1256.5 585.9 L1259.3 584.7 L1262.1 583.6 L1264.9 582.6 L1267.7 581.6 L1270.5 580.6 L1273.4 579.7 L1276.2 578.7 L1279.1 577.8 L1282.0 576.9 L1284.8 576.0 L1287.7 575.0 L1290.6 574.1 L1293.4 573.1 L1296.3 572.1 L1299.1 571.1 L1302.0 570.2 L1304.9 569.2 L1307.7 568.2 L1310.6 567.2 L1313.4 566.2 L1316.3 565.2 L1319.2 564.3 L1322.0 563.3 L1324.9 562.4 L1327.8 561.5 L1330.7 560.6 L1333.6 559.7 L1336.4 558.8 L1339.3 557.9 L1342.2 557.1 L1345.1 556.2 L1348.0 555.4 L1350.9 554.6 L1353.9 553.7 L1356.8 552.9 L1359.7 552.1 L1362.6 551.3 L1365.5 550.6 L1368.4 549.8 L1371.4 549.0 L1374.3 548.3 L1377.2 547.6 L1380.2 546.8 L1383.1 546.1 L1386.0 545.4 L1389.0 544.7 L1391.9 544.0 L1394.9 543.4 L1397.8 542.7 L1400.8 542.0 L1403.7 541.4 L1406.7 540.8 L1409.6 540.1 L1412.6 539.5 L1415.6 538.9 L1418.5 538.3 L1421.5 537.7 L1424.5 537.1 L1427.4 536.6 L1430.4 536.0 L1433.4 535.4 L1436.4 534.9 L1439.3 534.4 L1442.3 533.8 L1445.3 533.3 L1448.3 532.8 L1451.3 532.3 L1454.2 531.8 L1457.2 531.3 L1460.2 530.8 L1463.2 530.4 L1466.2 529.9 L1469.2 529.4 L1472.2 529.0 L1475.2 528.5 L1478.1 528.1 L1481.1 527.7 L1484.1 527.3 L1487.1 526.9 L1490.1 526.5 L1493.1 526.1 L1496.1 525.7 L1499.1 525.3 L1502.1 524.9 L1505.1 524.6 L1508.1 524.2 L1511.1 523.8 L1514.1 523.5 L1517.1 523.1 L1520.1 522.8 L1523.1 522.5 L1526.1 522.1 L1529.1 521.8 L1532.1 521.5 L1535.1 521.2 L1538.1 520.9 L1541.1 520.6 L1544.1 520.3 L1547.1 520.0 L1550.2 519.7 L1553.2 519.4 L1556.2 519.1 L1559.2 518.9 L1562.2 518.6 L1565.2 518.3 L1568.2 518.0 L1571.2 517.8 L1574.2 517.5 L1577.2 517.2 L1580.2 517.0 L1583.3 516.7 L1586.3 516.5 L1589.3 516.2 L1592.3 516.0 L1595.3 515.7 L1598.3 515.5 L1601.3 515.3 L1604.4 515.0 L1607.4 514.8 L1610.4 514.6 L1613.4 514.4 L1616.5 514.2 L1619.5 514.0 L1622.6 513.9 L1625.6 513.8 L1628.7 513.6 L1631.7 513.5 L1634.8 513.5 L1637.9 513.4 L1641.0 513.4 L1644.1 513.4 L1647.2 513.4 L1650.3 513.4 L1653.4 513.6 L1656.4 513.8 L1659.5 514.1 L1662.4 514.5 L1665.3 515.1 L1668.2 515.9 L1670.9 516.8 L1673.5 517.9 L1676.0 519.3 L1678.4 520.8 L1680.6 522.5 L1682.7 524.4 L1684.6 526.5 L1686.4 528.7 L1688.0 531.2 L1689.4 533.7 L1690.7 536.4 L1691.8 539.3 L1692.8 542.2 L1693.7 545.1 L1694.5 548.2 L1695.1 551.3 L1695.7 554.4 L1696.1 557.5 L1696.5 560.6 L1696.8 563.8 L1697.0 566.9 L1697.2 570.1 L1697.4 573.2 L1697.5 576.3 L1697.6 579.4 L1697.7 582.5 L1697.8 585.5 L1697.9 588.5 L1698.0 591.4 L1698.2 594.3 L1698.5 597.1 L1698.7 599.8" fill="none" stroke="#e31c26" stroke-width="3.0" stroke-linejoin="round" stroke-linecap="butt" stroke-dasharray="12 9"/><path d="M1155.3 790.0 L1157.1 700.0 L1159.8 671.1 L1161.6 648.9 L1163.3 635.6 L1163.8 632.4 L1164.9 629.6 L1166.4 627.1 L1168.0 624.7 L1169.9 622.5 L1172.0 620.6 L1174.3 618.7 L1176.7 617.0 L1179.3 615.4 L1181.9 613.9 L1184.7 612.5 L1187.4 611.1 L1190.2 609.7 L1193.0 608.4 L1195.8 607.0 L1198.5 605.7 L1201.3 604.4 L1204.1 603.1 L1206.8 601.8 L1209.6 600.6 L1212.4 599.3 L1215.1 598.0 L1217.9 596.8 L1220.7 595.6 L1223.4 594.4 L1226.2 593.1 L1229.0 591.9 L1231.7 590.8 L1234.5 589.6 L1237.3 588.4 L1240.0 587.3 L1242.8 586.1 L1245.6 585.0 L1248.4 583.8 L1251.1 582.7 L1253.9 581.6 L1256.7 580.5 L1259.5 579.4 L1262.3 578.3 L1265.1 577.2 L1267.9 576.1 L1270.7 575.0 L1273.5 574.0 L1276.4 572.9 L1279.2 571.9 L1282.0 570.8 L1284.9 569.8 L1287.7 568.8 L1290.5 567.8 L1293.4 566.7 L1296.2 565.7 L1299.1 564.8 L1302.0 563.8 L1304.8 562.8 L1307.7 561.8 L1310.6 560.9 L1313.4 559.9 L1316.3 559.0 L1319.2 558.0 L1322.1 557.1 L1325.0 556.2 L1327.9 555.3 L1330.8 554.4 L1333.7 553.5 L1336.6 552.6 L1339.5 551.7 L1342.4 550.9 L1345.3 550.0 L1348.2 549.2 L1351.1 548.3 L1354.0 547.5 L1357.0 546.7 L1359.9 545.9 L1362.8 545.1 L1365.7 544.3 L1368.7 543.5 L1371.6 542.7 L1374.5 541.9 L1377.5 541.2 L1380.4 540.4 L1383.4 539.7 L1386.3 539.0 L1389.3 538.2 L1392.2 537.5 L1395.2 536.8 L1398.1 536.1 L1401.1 535.5 L1404.0 534.8 L1407.0 534.1 L1410.0 533.5 L1412.9 532.8 L1415.9 532.2 L1418.8 531.6 L1421.8 531.0 L1424.8 530.4 L1427.8 529.8 L1430.7 529.2 L1433.7 528.6 L1436.7 528.1 L1439.6 527.5 L1442.6 527.0 L1445.6 526.4 L1448.6 525.9 L1451.6 525.4 L1454.5 524.9 L1457.5 524.4 L1460.5 524.0 L1463.5 523.5 L1466.5 523.0 L1469.4 522.6 L1472.4 522.2 L1475.4 521.7 L1478.4 521.3 L1481.4 520.9 L1484.4 520.5 L1487.3 520.1 L1490.3 519.7 L1493.3 519.4 L1496.3 519.0 L1499.3 518.6 L1502.3 518.3 L1505.3 517.9 L1508.3 517.6 L1511.3 517.2 L1514.3 516.9 L1517.3 516.5 L1520.3 516.2 L1523.3 515.9 L1526.3 515.6 L1529.3 515.2 L1532.3 514.9 L1535.3 514.6 L1538.3 514.3 L1541.3 513.9 L1544.3 513.6 L1547.3 513.3 L1550.4 513.0 L1553.4 512.7 L1556.4 512.3 L1559.4 512.0 L1562.5 511.7 L1565.5 511.4 L1568.5 511.0 L1571.5 510.7 L1574.6 510.4 L1577.6 510.1 L1580.7 509.8 L1583.7 509.4 L1586.7 509.1 L1589.8 508.9 L1592.8 508.6 L1595.8 508.3 L1598.9 508.1 L1601.9 507.8 L1604.9 507.6 L1608.0 507.4 L1611.0 507.2 L1614.0 507.0 L1617.1 506.9 L1620.1 506.8 L1623.1 506.7 L1626.1 506.6 L1629.2 506.5 L1632.2 506.5 L1635.2 506.5 L1638.2 506.5 L1641.2 506.6 L1644.2 506.7 L1647.2 506.8 L1650.2 507.0 L1653.2 507.2 L1656.2 507.5 L1659.2 507.8 L1662.2 508.1 L1665.1 508.4 L1668.1 508.9 L1671.1 509.3 L1674.0 509.8 L1676.9 510.5 L1679.6 511.5 L1682.2 512.7 L1684.5 514.3 L1686.6 516.2 L1688.5 518.4 L1690.1 520.9 L1691.5 523.6 L1692.8 526.5 L1693.9 529.5 L1694.8 532.6 L1695.7 535.7 L1696.5 538.9 L1697.2 542.0 L1697.9 545.1 L1698.5 548.2 L1699.1 551.2 L1699.7 554.2 L1700.2 557.2 L1700.7 560.1 L1701.1 563.1 L1701.5 566.0 L1701.8 568.9 L1702.2 571.8 L1702.4 574.8 L1702.7 577.7 L1702.9 580.6 L1703.1 583.6 L1703.2 586.5 L1703.4 589.5 L1703.4 592.5 L1703.5 595.6 L1703.5 598.6 L1703.6 601.8 L1703.5 604.9 L1703.5 608.1" fill="none" stroke="#e31c26" stroke-width="3.0" stroke-linejoin="round" stroke-linecap="butt"/><path d="M1162.0 580.0 L1165.0 545.0 L1168.1 532.0 L1170.8 530.8 L1173.5 529.5 L1176.3 528.2 L1179.1 527.0 L1181.9 525.7 L1184.6 524.5 L1187.4 523.3 L1190.2 522.1 L1193.0 520.9 L1195.8 519.8 L1198.7 518.7 L1201.5 517.6 L1204.3 516.5 L1207.1 515.4 L1210.0 514.4 L1212.8 513.4 L1215.7 512.4 L1218.5 511.4 L1221.4 510.4 L1224.2 509.5 L1227.1 508.6 L1230.0 507.7 L1232.9 506.8 L1235.8 505.9 L1238.6 505.1 L1241.5 504.2 L1244.4 503.4 L1247.3 502.6 L1250.2 501.8 L1253.1 501.0 L1256.1 500.3 L1259.0 499.5 L1261.9 498.8 L1264.8 498.1 L1267.7 497.4 L1270.7 496.7 L1273.6 496.1 L1276.6 495.4 L1279.5 494.8 L1282.4 494.1 L1285.4 493.5 L1288.3 492.9 L1291.3 492.3 L1294.3 491.8 L1297.2 491.2 L1300.2 490.7 L1303.2 490.1 L1306.1 489.6 L1309.1 489.1 L1312.1 488.6 L1315.1 488.1 L1318.0 487.6 L1321.0 487.1 L1324.0 486.7 L1327.0 486.2 L1330.0 485.8 L1333.0 485.4 L1336.0 484.9 L1339.0 484.5 L1342.0 484.1 L1345.0 483.7 L1348.0 483.3 L1351.0 482.9 L1354.0 482.6 L1357.0 482.2 L1360.0 481.8 L1363.0 481.5 L1366.1 481.1 L1369.1 480.8 L1372.1 480.5 L1375.1 480.1 L1378.1 479.8 L1381.1 479.5 L1384.2 479.2 L1387.2 478.9 L1390.2 478.6 L1393.2 478.3 L1396.2 478.0 L1399.3 477.7 L1402.3 477.4 L1405.3 477.1 L1408.3 476.9 L1411.4 476.6 L1414.4 476.3 L1417.4 476.1 L1420.4 475.8 L1423.5 475.5 L1426.5 475.3 L1429.5 475.0 L1432.5 474.8 L1435.6 474.6 L1438.6 474.4 L1441.6 474.2 L1444.6 474.0 L1447.6 473.9 L1450.7 473.7 L1453.7 473.6 L1456.7 473.5 L1459.7 473.4 L1462.7 473.4 L1465.7 473.4 L1468.8 473.4 L1471.8 473.4 L1474.8 473.4 L1477.8 473.5 L1480.8 473.6 L1483.8 473.7 L1486.8 473.9 L1489.8 474.1 L1492.8 474.3 L1495.8 474.6 L1498.8 474.9 L1501.7 475.3 L1504.7 475.7 L1507.7 476.1 L1510.7 476.5 L1513.7 477.1 L1516.6 477.6 L1519.6 478.2 L1522.5 478.9 L1525.4 479.7 L1528.1 480.7 L1530.7 481.9 L1533.1 483.4 L1535.4 485.1 L1537.3 487.1 L1539.1 489.5 L1540.6 492.2 L1541.9 495.1 L1542.9 498.2 L1543.9 501.4 L1544.7 504.7 L1545.3 508.1 L1545.9 511.5 L1546.4 514.8 L1546.8 518.1 L1547.2 521.2 L1547.6 524.1 L1548.0 526.8 L1548.5 529.2 L1549.0 531.3 L1549.5 533.2 L1550.1 534.9 L1550.6 536.7 L1551.0 538.6 L1551.4 540.9 L1551.6 543.7 L1551.5 547.0 L1551.3 551.1 L1550.8 556.0 L1550.0 562.0" fill="none" stroke="#1414cf" stroke-width="3.4" stroke-linejoin="round" stroke-linecap="butt" stroke-dasharray="12 9"/><path d="M1155.3 720.0 L1158.5 620.0 L1161.5 570.0 L1164.0 540.0 L1166.0 529.9 L1167.9 527.2 L1170.5 525.9 L1173.2 524.6 L1175.9 523.3 L1178.7 522.1 L1181.4 520.9 L1184.2 519.7 L1186.9 518.5 L1189.7 517.4 L1192.5 516.3 L1195.3 515.2 L1198.1 514.2 L1201.0 513.2 L1203.8 512.2 L1206.7 511.2 L1209.5 510.3 L1212.4 509.3 L1215.3 508.4 L1218.2 507.6 L1221.1 506.7 L1224.0 505.9 L1226.9 505.0 L1229.8 504.2 L1232.7 503.4 L1235.7 502.7 L1238.6 501.9 L1241.6 501.2 L1244.5 500.5 L1247.5 499.8 L1250.4 499.1 L1253.4 498.4 L1256.4 497.7 L1259.4 497.1 L1262.4 496.5 L1265.3 495.8 L1268.3 495.2 L1271.3 494.6 L1274.3 494.0 L1277.3 493.4 L1280.3 492.8 L1283.3 492.3 L1286.3 491.7 L1289.3 491.1 L1292.3 490.6 L1295.3 490.0 L1298.3 489.5 L1301.2 489.0 L1304.2 488.4 L1307.2 487.9 L1310.2 487.4 L1313.2 486.9 L1316.2 486.4 L1319.2 485.9 L1322.2 485.4 L1325.2 485.0 L1328.2 484.5 L1331.2 484.0 L1334.2 483.6 L1337.2 483.1 L1340.2 482.7 L1343.2 482.3 L1346.2 481.8 L1349.2 481.4 L1352.2 481.0 L1355.2 480.6 L1358.2 480.2 L1361.2 479.9 L1364.2 479.5 L1367.2 479.1 L1370.2 478.8 L1373.2 478.4 L1376.2 478.1 L1379.2 477.8 L1382.2 477.5 L1385.2 477.2 L1388.2 476.9 L1391.2 476.6 L1394.2 476.3 L1397.2 476.0 L1400.2 475.8 L1403.2 475.6 L1406.3 475.3 L1409.3 475.1 L1412.3 474.9 L1415.3 474.7 L1418.3 474.5 L1421.3 474.3 L1424.4 474.1 L1427.4 474.0 L1430.4 473.8 L1433.4 473.7 L1436.5 473.6 L1439.5 473.5 L1442.5 473.4 L1445.5 473.3 L1448.6 473.2 L1451.6 473.1 L1454.7 473.1 L1457.7 473.0 L1460.7 473.0 L1463.8 473.0 L1466.8 473.0 L1469.9 473.0 L1472.9 473.0 L1476.0 473.0 L1479.0 473.0 L1482.1 473.0 L1485.2 473.0 L1488.3 473.0 L1491.3 473.1 L1494.4 473.1 L1497.5 473.2 L1500.6 473.2 L1503.7 473.3 L1506.8 473.3 L1509.8 473.5 L1512.9 473.7 L1515.8 474.2 L1518.7 475.0 L1521.4 476.0 L1524.0 477.4 L1526.4 479.0 L1528.6 480.9 L1530.6 483.0 L1532.4 485.4 L1533.9 487.9 L1535.2 490.7 L1536.3 493.6 L1537.3 496.5 L1538.2 499.5 L1539.0 502.4 L1539.7 505.4 L1540.4 508.4 L1541.1 511.4 L1541.7 514.4 L1542.2 517.4 L1542.7 520.4 L1543.2 523.4 L1543.6 526.4 L1544.0 529.4 L1544.3 532.5 L1544.6 535.5 L1544.9 538.5 L1545.2 541.5 L1545.4 544.6 L1545.6 547.6 L1545.8 550.6 L1546.0 553.6 L1546.2 556.7 L1546.4 559.7 L1546.5 562.7 L1546.7 565.7 L1546.9 568.8 L1547.1 571.8 L1547.3 574.8 L1547.5 577.9 L1547.7 580.9 L1547.9 583.9 L1548.2 586.9 L1548.5 589.9 L1548.8 592.9 L1549.2 596.0 L1549.5 599.0" fill="none" stroke="#1414cf" stroke-width="3.6" stroke-linejoin="round" stroke-linecap="butt"/><path d="M1173.0 440.0 L1175.6 415.2 L1177.7 406.7 L1180.2 405.1 L1183.2 403.5 L1186.2 402.1 L1189.3 400.9 L1192.3 400.0 L1195.3 399.4 L1198.4 399.0 L1201.4 398.8 L1204.4 398.9 L1207.4 399.1 L1210.3 399.6 L1213.2 400.2 L1216.1 401.1 L1218.9 402.1 L1221.6 403.3 L1224.2 404.7 L1226.8 406.2 L1229.3 407.9 L1231.7 409.7 L1234.1 411.6 L1236.3 413.7 L1238.4 415.9 L1240.3 418.2 L1242.2 420.6 L1243.9 423.2 L1245.5 425.8 L1246.9 428.4 L1248.2 431.2 L1249.4 434.0 L1250.4 436.9 L1251.3 439.9 L1252.2 442.9 L1252.9 445.9 L1253.6 449.0 L1254.1 452.1 L1254.6 455.2 L1255.0 458.3 L1255.4 461.5 L1255.7 464.6 L1256.0 467.7 L1256.2 470.9 L1256.4 474.0 L1256.5 477.0 L1256.7 480.1 L1256.8 483.1 L1257.0 486.0 L1257.1 488.9 L1257.3 491.8" fill="none" stroke="#1d807a" stroke-width="3.0" stroke-linejoin="round" stroke-linecap="butt" stroke-dasharray="12 9"/><path d="M1155.5 700.0 L1160.7 620.0 L1161.7 596.0 L1163.9 564.0 L1166.0 532.0 L1168.1 500.0 L1171.3 469.3 L1174.5 437.3 L1177.7 430.9 L1179.9 429.1 L1182.5 427.4 L1185.2 426.0 L1188.0 424.7 L1190.9 423.6 L1193.9 422.7 L1197.0 422.0 L1200.1 421.4 L1203.2 421.1 L1206.3 421.0 L1209.4 421.1 L1212.5 421.3 L1215.6 421.8 L1218.5 422.5 L1221.4 423.4 L1224.2 424.6 L1226.8 425.9 L1229.3 427.4 L1231.7 429.2 L1233.9 431.1 L1236.1 433.1 L1238.0 435.3 L1239.9 437.6 L1241.6 440.1 L1243.2 442.6 L1244.7 445.2 L1246.0 447.8 L1247.2 450.6 L1248.3 453.4 L1249.3 456.2 L1250.2 459.1 L1251.0 462.0 L1251.7 465.0 L1252.4 468.0 L1252.9 471.1 L1253.4 474.1 L1253.9 477.2 L1254.3 480.3 L1254.6 483.5 L1254.9 486.6 L1255.2 489.7 L1255.5 492.9 L1255.7 496.0 L1255.9 499.1 L1256.1 502.2 L1256.3 505.3 L1256.6 508.4 L1256.8 511.4 L1257.0 514.4 L1257.2 517.4 L1257.4 520.5 L1257.6 523.5 L1257.8 526.4 L1258.0 529.4 L1258.2 532.4 L1258.4 535.4 L1258.6 538.4 L1258.8 541.3 L1259.0 544.3 L1259.1 547.3 L1259.3 550.3 L1259.5 553.3 L1259.6 556.3 L1259.8 559.3 L1259.9 562.3 L1260.0 565.3 L1260.2 568.4 L1260.3 571.4 L1260.4 574.5 L1260.5 577.6 L1260.6 580.8 L1260.7 583.9 L1260.7 587.1" fill="none" stroke="#1d807a" stroke-width="3.0" stroke-linejoin="round" stroke-linecap="butt"/><path d="M1155.8 700.0 L1157.5 517.3 L1159.6 496.0 L1161.7 469.3 L1163.9 442.7 L1166.0 410.7 L1170.3 353.3 L1175.6 311.7 L1178.3 312.8 L1181.6 313.4 L1184.7 314.2 L1187.8 315.1 L1190.8 316.2 L1193.7 317.4 L1196.6 318.7 L1199.3 320.2 L1202.0 321.7 L1204.6 323.4 L1207.1 325.1 L1209.5 327.0 L1211.8 329.0 L1214.0 331.0 L1216.2 333.2 L1218.2 335.4 L1220.2 337.8 L1222.0 340.2 L1223.8 342.6 L1225.5 345.2 L1227.0 347.8 L1228.5 350.5 L1229.9 353.2 L1231.2 356.0 L1232.3 358.8 L1233.4 361.7 L1234.4 364.6 L1235.3 367.5 L1236.1 370.5 L1236.9 373.6 L1237.6 376.6 L1238.2 379.7 L1238.7 382.8 L1239.2 385.9 L1239.6 389.0 L1240.0 392.2 L1240.3 395.4 L1240.6 398.5 L1240.9 401.7 L1241.1 404.9 L1241.3 408.1 L1241.5 411.2 L1241.6 414.4 L1241.7 417.5 L1241.8 420.7 L1241.9 423.8 L1242.0 426.9 L1242.1 430.0 L1242.2 433.0 L1242.4 436.0 L1242.5 439.0 L1242.6 441.9 L1242.8 444.9" fill="none" stroke="#dc1ede" stroke-width="3.0" stroke-linejoin="round" stroke-linecap="butt" stroke-dasharray="12 9"/><path d="M1155.5 720.0 L1159.0 620.0 L1162.8 517.3 L1166.0 480.0 L1169.2 442.7 L1172.4 400.0 L1175.6 362.4 L1178.4 362.2 L1181.7 362.1 L1185.0 362.2 L1188.2 362.5 L1191.4 363.0 L1194.6 363.7 L1197.7 364.6 L1200.6 365.7 L1203.5 367.0 L1206.2 368.4 L1208.7 370.1 L1211.0 371.9 L1213.2 373.9 L1215.3 376.0 L1217.2 378.3 L1218.9 380.7 L1220.5 383.2 L1222.0 385.8 L1223.4 388.5 L1224.7 391.3 L1225.8 394.1 L1226.9 397.0 L1227.9 400.0 L1228.8 402.9 L1229.7 405.9 L1230.5 409.0 L1231.3 412.0 L1232.0 415.0 L1232.6 418.0 L1233.3 421.1 L1233.8 424.1 L1234.4 427.2 L1234.8 430.2 L1235.3 433.3 L1235.7 436.3 L1236.1 439.4 L1236.4 442.5 L1236.8 445.6 L1237.1 448.6 L1237.3 451.7 L1237.6 454.8 L1237.8 457.9 L1238.0 461.0 L1238.2 464.1 L1238.4 467.2 L1238.5 470.2 L1238.7 473.3 L1238.8 476.4 L1238.9 479.5 L1239.1 482.6 L1239.2 485.7 L1239.3 488.8 L1239.4 491.9 L1239.6 495.0 L1239.7 498.0 L1239.8 501.1 L1240.0 504.2 L1240.2 507.3 L1240.3 510.4 L1240.5 513.4 L1240.7 516.5 L1241.0 519.6 L1241.2 522.6 L1241.5 525.7 L1241.8 528.7" fill="none" stroke="#dc1ede" stroke-width="3.0" stroke-linejoin="round" stroke-linecap="butt"/><line x1="1155" y1="886" x2="1155" y2="690" stroke="#9020b8" stroke-width="3"/><text x="1232" y="338.5" font-size="41" font-weight="bold" fill="#dc1ede">40%</text><text x="1278" y="427" font-size="41" font-weight="bold" fill="#1d807a">30%</text><text x="1486.5" y="449.5" font-size="40" font-weight="bold" fill="#1414cf">20%</text><text x="1646.5" y="484" font-size="39" font-weight="bold" fill="#e31c26">10%</text><text x="1864.5" y="543.5" font-size="40" font-weight="bold" fill="#111">0%</text><text x="1368" y="871.5" font-size="27.7" font-style="italic" fill="#000">Materials Science &amp; Engineering A 718 (2018)</text><text x="1368" y="904.5" font-size="27.7" font-style="italic" fill="#000">43–47</text></g>
<text font-family="'Liberation Sans','Noto Sans CJK SC',sans-serif" fill="#000" y="1069"><tspan x="44.5" font-size="43" textLength="239" lengthAdjust="spacingAndGlyphs">CoCrFeMnNi</tspan><tspan x="283.0" font-size="41" letter-spacing="-2.1">高熵合金的抗氢脆性能</tspan><tspan x="657.0" font-size="41">（</tspan><tspan x="711.5" font-size="41" letter-spacing="-2.1">含氢溶液充氢</tspan><tspan x="958.0" font-size="41">）</tspan></text>
<text font-family="'Liberation Sans','Noto Sans CJK SC',sans-serif" fill="#000" y="1069"><tspan x="1008.5" font-size="43" textLength="239" lengthAdjust="spacingAndGlyphs">CoCrFeMnNi</tspan><tspan x="1246.0" font-size="41" letter-spacing="-2.1">高熵合金的抗氢脆性能</tspan><tspan x="1622.0" font-size="41">（</tspan><tspan x="1673.5" font-size="41" letter-spacing="-2.1">预应变下气态氢</tspan><tspan x="1959.0" font-size="41">）</tspan></text>
<circle cx="2053" cy="1157" r="123" fill="#20208a"/>
<text transform="translate(1933 1116.5) scale(1.08 1)" x="0" y="0" font-family="'Liberation Sans',Arial,sans-serif" font-size="48" letter-spacing="3.5" font-weight="bold" fill="#fff">33</text>
</svg>
</body></html>
